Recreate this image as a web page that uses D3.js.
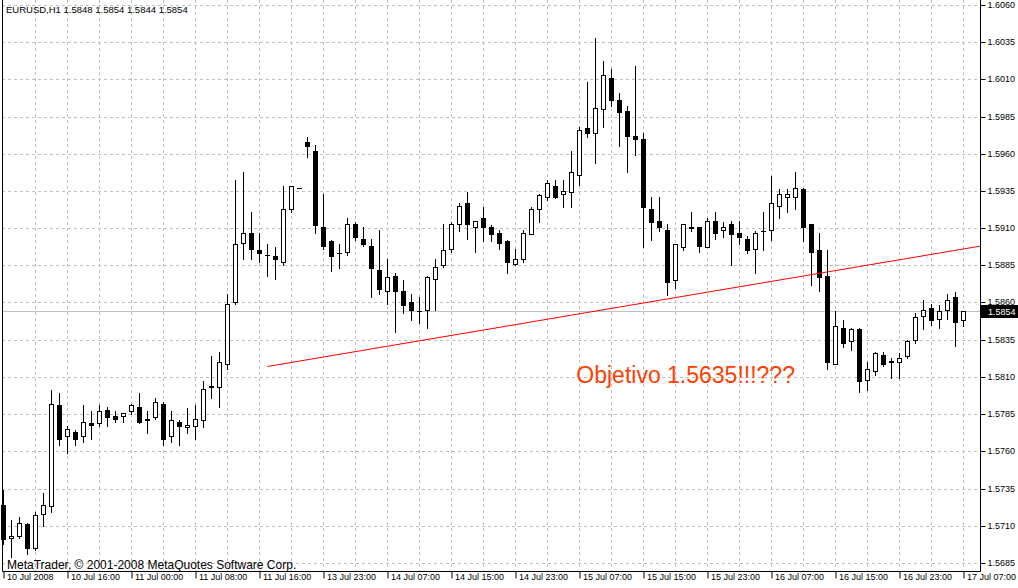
<!DOCTYPE html>
<html><head><meta charset="utf-8">
<script src="https://cdn.jsdelivr.net/npm/d3@7"></script>
<style>body{margin:0;background:#fff}svg{display:block}text{font-family:"Liberation Sans",Arial,sans-serif}</style>
</head><body>
<script>
const symbolTitle = "EURUSD,H1  1.5848 1.5854 1.5844 1.5854";
const copyright = "MetaTrader, \u00a9 2001-2008 MetaQuotes Software Corp.";
const open = [1.5724,1.5702,1.5703,1.5711,1.5695,1.5718,1.5723,1.5791,1.5770,1.5773,1.5770,1.5779,1.5779,1.5788,1.5784,1.5784,1.5787,1.5790,1.5781,1.5783,1.5792,1.5770,1.5780,1.5776,1.5777,1.5781,1.5803,1.5803,1.5819,1.5860,1.5900,1.5907,1.5895,1.5892,1.5891,1.5887,1.5923,1.5937,1.5968,1.5962,1.5911,1.5901,1.5893,1.5894,1.5913,1.5903,1.5898,1.5882,1.5868,1.5878,1.5868,1.5860,1.5854,1.5855,1.5876,1.5885,1.5896,1.5913,1.5927,1.5911,1.5917,1.5911,1.5907,1.5901,1.5886,1.5889,1.5906,1.5923,1.5931,1.5938,1.5933,1.5934,1.5946,1.5977,1.5974,1.5990,1.6011,1.5996,1.5989,1.5972,1.5970,1.5923,1.5915,1.5909,1.5875,1.5897,1.5911,1.5911,1.5897,1.5915,1.5909,1.5913,1.5907,1.5903,1.5896,1.5908,1.5909,1.5925,1.5931,1.5931,1.5936,1.5913,1.5895,1.5878,1.5819,1.5843,1.5834,1.5842,1.5808,1.5814,1.5825,1.5820,1.5820,1.5824,1.5835,1.5851,1.5856,1.5849,1.5855,1.5864,1.5848];
const high = [1.5734,1.5714,1.5716,1.5712,1.5719,1.5732,1.5801,1.5799,1.5777,1.5774,1.5791,1.5787,1.5791,1.5790,1.5787,1.5786,1.5792,1.5799,1.5787,1.5796,1.5793,1.5787,1.5781,1.5789,1.5791,1.5807,1.5824,1.5827,1.5866,1.5942,1.5948,1.5921,1.5907,1.5899,1.5897,1.5938,1.5938,1.5937,1.5971,1.5966,1.5933,1.5902,1.5899,1.5917,1.5914,1.5911,1.5903,1.5909,1.5889,1.5880,1.5875,1.5866,1.5864,1.5878,1.5889,1.5913,1.5914,1.5927,1.5934,1.5915,1.5924,1.5912,1.5909,1.5902,1.5896,1.5909,1.5924,1.5933,1.5942,1.5942,1.5942,1.5962,1.5978,1.6008,1.6038,1.6022,1.6017,1.6001,1.5992,1.6019,1.5974,1.5931,1.5931,1.5913,1.5899,1.5913,1.5921,1.5911,1.5917,1.5921,1.5914,1.5915,1.5915,1.5905,1.5908,1.5921,1.5945,1.5936,1.5936,1.5948,1.5937,1.5913,1.5907,1.5895,1.5854,1.5848,1.5843,1.5843,1.5820,1.5827,1.5827,1.5823,1.5826,1.5835,1.5853,1.5862,1.5859,1.5858,1.5866,1.5867,1.5854];
const low = [1.5698,1.5689,1.5702,1.5691,1.5694,1.5710,1.5719,1.5764,1.5759,1.5764,1.5766,1.5768,1.5777,1.5777,1.5780,1.5780,1.5785,1.5779,1.5772,1.5782,1.5764,1.5766,1.5764,1.5772,1.5768,1.5776,1.5796,1.5790,1.5815,1.5859,1.5889,1.5889,1.5887,1.5878,1.5876,1.5885,1.5921,1.5937,1.5958,1.5907,1.5896,1.5881,1.5883,1.5892,1.5902,1.5898,1.5864,1.5866,1.5859,1.5840,1.5853,1.5848,1.5846,1.5843,1.5855,1.5884,1.5894,1.5908,1.5903,1.5894,1.5901,1.5901,1.5896,1.5880,1.5885,1.5887,1.5906,1.5914,1.5929,1.5930,1.5924,1.5924,1.5939,1.5971,1.5954,1.5978,1.5992,1.5965,1.5948,1.5959,1.5897,1.5902,1.5908,1.5865,1.5870,1.5895,1.5908,1.5894,1.5897,1.5903,1.5904,1.5885,1.5899,1.5893,1.5880,1.5895,1.5902,1.5917,1.5921,1.5923,1.5901,1.5872,1.5868,1.5815,1.5819,1.5830,1.5828,1.5800,1.5801,1.5811,1.5817,1.5809,1.5809,1.5823,1.5833,1.5842,1.5845,1.5843,1.5849,1.5831,1.5844];
const close = [1.5701,1.5703,1.5712,1.5695,1.5717,1.5724,1.5792,1.5768,1.5775,1.5768,1.5780,1.5778,1.5787,1.5783,1.5782,1.5786,1.5791,1.5780,1.5782,1.5793,1.5768,1.5781,1.5777,1.5778,1.5782,1.5802,1.5804,1.5820,1.5859,1.5899,1.5907,1.5896,1.5893,1.5892,1.5889,1.5923,1.5938,1.5937,1.5965,1.5912,1.5898,1.5891,1.5893,1.5913,1.5904,1.5899,1.5883,1.5869,1.5877,1.5868,1.5858,1.5855,1.5854,1.5877,1.5884,1.5895,1.5913,1.5925,1.5913,1.5915,1.5911,1.5906,1.5900,1.5887,1.5889,1.5907,1.5923,1.5932,1.5940,1.5931,1.5935,1.5948,1.5976,1.5974,1.5991,1.6013,1.5996,1.5988,1.5972,1.5970,1.5924,1.5914,1.5911,1.5874,1.5899,1.5913,1.5910,1.5898,1.5915,1.5907,1.5911,1.5906,1.5904,1.5895,1.5907,1.5908,1.5927,1.5933,1.5933,1.5937,1.5911,1.5894,1.5877,1.5820,1.5844,1.5833,1.5842,1.5807,1.5815,1.5826,1.5819,1.5821,1.5823,1.5834,1.5850,1.5855,1.5848,1.5854,1.5862,1.5847,1.5854];
const timeLabels = ["10 Jul 2008","10 Jul 16:00","11 Jul 00:00","11 Jul 08:00","11 Jul 16:00","13 Jul 23:00","14 Jul 07:00","14 Jul 15:00","14 Jul 23:00","15 Jul 07:00","15 Jul 15:00","15 Jul 23:00","16 Jul 07:00","16 Jul 15:00","16 Jul 23:00","17 Jul 07:00"];
const barsPerLabel = 8;
const barsPerGrid = 4;
const priceTicks = [1.5685,1.5710,1.5735,1.5760,1.5785,1.5810,1.5835,1.5860,1.5885,1.5910,1.5935,1.5960,1.5985,1.6010,1.6035,1.6060];
const currentPrice = 1.5854;
const trendBars = [33, 109];
const trendPrices = [1.5817, 1.5886];
const noteText = "Objetivo 1.5635!!!???";
const noteBar = 71.6, notePrice = 1.5806;

const W = 1018, H = 588;
const plotL = 2, plotR = 980, plotT = 0, plotB = 571;
const n = open.length;
const x = d3.scaleLinear().domain([0, n - 1]).range([3.5, 3.5 + 8 * (n - 1)]);
const y = d3.scaleLinear().domain([1.5685, 1.6060]).range([562.9, 4.9]);
const Y = p => Math.round(y(p));
const axisFont = "9px";

const svg = d3.select("body").append("svg").attr("width", W).attr("height", H);
svg.append("rect").attr("width", W).attr("height", H).attr("fill", "#fff");

// grid
const grid = svg.append("g").attr("stroke", "#c0c0c0").attr("stroke-dasharray", "3,3").attr("stroke-width", 1);
grid.selectAll("line.h").data(priceTicks).join("line")
  .attr("x1", plotL).attr("x2", plotR).attr("y1", d => Y(d) + 0.5).attr("y2", d => Y(d) + 0.5);
const gridBars = d3.range(barsPerGrid, n, barsPerGrid);
grid.selectAll("line.v").data(gridBars).join("line")
  .attr("x1", d => x(d)).attr("x2", d => x(d)).attr("y1", plotT).attr("y2", plotB);

// current price line
svg.append("line").attr("x1", plotL).attr("x2", plotR)
  .attr("y1", Y(currentPrice) + 0.5).attr("y2", Y(currentPrice) + 0.5)
  .attr("stroke", "#c0c0c0");

// candles
const data = open.map((o, i) => ({ i, o, h: high[i], l: low[i], c: close[i] }));
const cg = svg.append("g");
cg.selectAll("line.w").data(data).join("line")
  .attr("x1", d => x(d.i)).attr("x2", d => x(d.i))
  .attr("y1", d => Y(d.h)).attr("y2", d => Y(d.l) + 1)
  .attr("stroke", "#000");
cg.selectAll("rect.b").data(data.filter(d => Y(d.o) !== Y(d.c))).join("rect")
  .attr("x", d => x(d.i) - 2)
  .attr("y", d => Y(Math.max(d.o, d.c)) + 0.5)
  .attr("width", 4)
  .attr("height", d => Y(Math.min(d.o, d.c)) - Y(Math.max(d.o, d.c)))
  .attr("fill", d => d.c > d.o ? "#fff" : "#000")
  .attr("stroke", "#000");
cg.selectAll("line.d").data(data.filter(d => Y(d.o) === Y(d.c))).join("line")
  .attr("x1", d => x(d.i) - 2.5).attr("x2", d => x(d.i) + 2.5)
  .attr("y1", d => Y(d.o) + 0.5).attr("y2", d => Y(d.o) + 0.5)
  .attr("stroke", "#000");

// trend line (ray to the right)
const slope = (trendPrices[1] - trendPrices[0]) / (trendBars[1] - trendBars[0]);
const endBar = x.invert(plotR);
svg.append("line")
  .attr("x1", x(trendBars[0])).attr("y1", y(trendPrices[0]))
  .attr("x2", x(endBar)).attr("y2", y(trendPrices[0] + slope * (endBar - trendBars[0])))
  .attr("stroke", "#ff0000").attr("stroke-width", 1);

// annotation
svg.append("text").attr("x", x(noteBar)).attr("y", y(notePrice))
  .attr("fill", "#ff4000").attr("font-size", "23px").text(noteText);

// frame
svg.append("path").attr("d", `M${plotL + 0.5},0V${plotB + 0.5}H${plotR + 0.5}V0`)
  .attr("fill", "none").attr("stroke", "#000");

// right axis
const ax = d3.axisRight(y).tickValues(priceTicks).tickSize(5).tickSizeOuter(0).tickPadding(2)
  .tickFormat(d3.format(".4f"));
const gA = svg.append("g").attr("transform", `translate(${plotR + 0.5},0)`).call(ax);
gA.select(".domain").remove();
gA.selectAll(".tick").attr("transform", d => `translate(0,${Y(d) + 0.5})`);
gA.selectAll("text").attr("font-family", "Liberation Sans, Arial, sans-serif").attr("font-size", axisFont).attr("fill", "#000");
gA.selectAll("line").attr("stroke", "#000");

// current price label
const cp = svg.append("g").attr("transform", `translate(${plotR + 1},${Y(currentPrice) + 0.5})`);
cp.append("rect").attr("x", 0).attr("y", -6.5).attr("width", 37).attr("height", 13).attr("fill", "#000");
cp.append("text").attr("x", 7).attr("y", 0).attr("dy", "0.35em").attr("fill", "#fff")
  .attr("font-size", axisFont).text(d3.format(".4f")(currentPrice));

// bottom axis
const labelBars = timeLabels.map((_, k) => k * barsPerLabel);
const bx = d3.axisBottom(x).tickValues(labelBars).tickSize(7).tickSizeOuter(0)
  .tickFormat((d, k) => timeLabels[k]);
const gB = svg.append("g").attr("transform", `translate(0,${plotB + 0.5})`).call(bx);
gB.select(".domain").remove();
gB.selectAll("line").attr("stroke", "#000");
gB.selectAll("text").attr("text-anchor", "start").attr("x", 3).attr("y", 2).attr("dy", "0.71em")
  .attr("font-family", "Liberation Sans, Arial, sans-serif").attr("font-size", axisFont).attr("fill", "#000");

// header and footer
svg.append("text").attr("x", 6).attr("y", 13).attr("font-size", "9.5px").attr("fill", "#000").text(symbolTitle);
svg.append("text").attr("x", 7).attr("y", 568.5).attr("font-size", "12px").attr("fill", "#000").text(copyright);
</script>
</body></html>
